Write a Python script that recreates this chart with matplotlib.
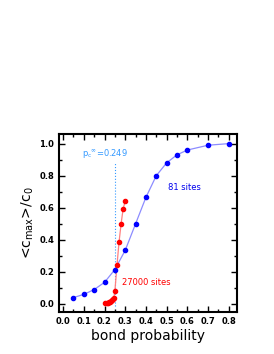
import matplotlib
matplotlib.use('Agg')
import matplotlib.pyplot as plt
from matplotlib.ticker import MultipleLocator, FormatStrFormatter

plt.rcParams['mathtext.default'] = 'regular'

# 81 sites
p_small = [0.05, 0.10, 0.15, 0.20, 0.25, 0.30, 0.35, 0.40, 0.45, 0.50, 0.55, 0.60, 0.70, 0.80]
c_small = [0.04, 0.06, 0.09, 0.135, 0.215, 0.335, 0.50, 0.665, 0.80, 0.88, 0.93, 0.96, 0.99, 1.0]

# 27000 sites
p_large = [0.20, 0.21, 0.215, 0.22, 0.225, 0.23, 0.235, 0.24, 0.245, 0.25, 0.26, 0.27, 0.28, 0.29, 0.30]
c_large = [0.005, 0.006, 0.008, 0.01, 0.013, 0.017, 0.022, 0.03, 0.04, 0.08, 0.24, 0.385, 0.50, 0.595, 0.64]

pc = 0.249

fig = plt.figure(figsize=(2.74, 3.54), dpi=100)
ax = fig.add_axes([59/274, 1 - 312/354, 178/274, 178/354])

ax.plot(p_small, c_small, '-', color='#8c8cff', lw=0.9, zorder=2)
ax.plot(p_small, c_small, 'o', color='#0000ff', ms=3.0, zorder=3)
ax.plot(p_large, c_large, '-', color='#ff8080', lw=0.9, zorder=2)
ax.plot(p_large, c_large, 'o', color='#ff0000', ms=3.0, zorder=3)

ax.plot([pc, pc], [-0.01, 0.88], ':', color='#3399ff', lw=0.8, zorder=1)
ax.text(0.09, 0.925, r'p$_c$$^{\infty}$=0.249', color='#3399ff', fontsize=6)
ax.text(0.505, 0.71, '81 sites', color='#0000ee', fontsize=6)
ax.text(0.285, 0.12, '27000 sites', color='#ff0000', fontsize=6)

ax.set_xlim(-0.02, 0.84)
ax.set_ylim(-0.05, 1.06)
ax.xaxis.set_major_locator(MultipleLocator(0.1))
ax.xaxis.set_minor_locator(MultipleLocator(0.05))
ax.yaxis.set_major_locator(MultipleLocator(0.2))
ax.yaxis.set_minor_locator(MultipleLocator(0.1))
ax.xaxis.set_major_formatter(FormatStrFormatter('%.1f'))
ax.yaxis.set_major_formatter(FormatStrFormatter('%.1f'))
ax.tick_params(which='both', direction='in', top=True, right=True, labelsize=6, width=1)
ax.tick_params(which='major', length=4)
ax.tick_params(which='minor', length=2)
for lbl in ax.get_xticklabels() + ax.get_yticklabels():
    lbl.set_fontweight('bold')
for s in ax.spines.values():
    s.set_linewidth(1.5)

ax.set_xlabel('bond probability', fontsize=10, labelpad=2)
ax.set_ylabel(r'<c$_{max}$>/c$_0$', fontsize=10, labelpad=2)

fig.savefig('out.png', dpi=100)
